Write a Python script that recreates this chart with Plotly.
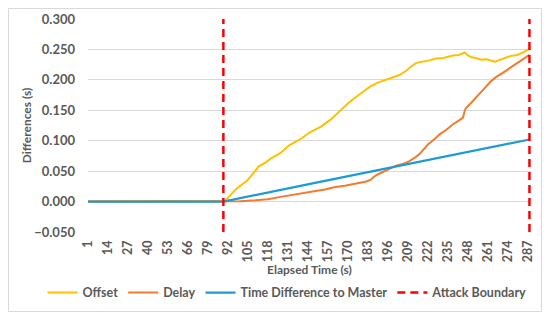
import plotly.graph_objects as go

# ---- data ----
offset_x = [1, 89, 90, 92, 94.6, 97, 100, 104.4, 108, 112, 116.4, 120, 126.2, 131.6, 134.9, 140,
            144.7, 148, 153, 158.9, 164.3, 170.8, 177, 183.9, 189, 194.8, 199, 203.5, 207.9,
            211, 214.4, 219, 223, 227.4, 232, 238.3, 242, 245.9, 248, 250.3, 253, 256.8, 260,
            265.5, 270, 275.3, 280, 284, 288]
offset_y = [0.000, 0.000, 0.001, 0.006, 0.014, 0.020, 0.026, 0.034, 0.045, 0.058, 0.064, 0.071,
            0.080, 0.092, 0.097, 0.104, 0.113, 0.117, 0.124, 0.135, 0.147, 0.163, 0.175, 0.188,
            0.195, 0.200, 0.204, 0.208, 0.215, 0.222, 0.228, 0.230, 0.232, 0.235, 0.236, 0.240,
            0.241, 0.245, 0.240, 0.237, 0.236, 0.233, 0.234, 0.230, 0.234, 0.239, 0.241, 0.245,
            0.251]

delay_x = [1, 89, 90, 100, 110, 118, 126.2, 135, 142, 148, 155, 161, 168, 177.4, 182, 185, 187,
           189.3, 194.8, 201.3, 206, 210, 214, 216.5, 220, 222, 226, 229.6, 234, 238.3, 242,
           244.8, 246, 247, 250, 253.5, 258, 262.3, 266, 270.9, 275, 279.7, 284, 288]
delay_y = [0.000, 0.000, 0.000, 0.0005, 0.002, 0.004, 0.0077, 0.011, 0.014, 0.017, 0.020, 0.0236,
           0.026, 0.031, 0.033, 0.036, 0.041, 0.0445, 0.051, 0.059, 0.062, 0.0665, 0.073, 0.078,
           0.088, 0.094, 0.102, 0.1105, 0.118, 0.127, 0.133, 0.138, 0.150, 0.1545, 0.162, 0.171,
           0.184, 0.196, 0.204, 0.212, 0.219, 0.226, 0.233, 0.241]

master_x = [1, 89, 151, 223, 288]
master_y = [0.000, 0.000, 0.032, 0.069, 0.102]

boundary_x = [89, 288]
boundary_y = [-0.05, 0.30]

tick_vals = list(range(1, 288, 13))
tick_text = [str(v) for v in tick_vals]
y_ticks = [-0.05, 0.0, 0.05, 0.10, 0.15, 0.20, 0.25, 0.30]

FONT = "Lato"
GREY = "#595959"

bx, by = [], []
for b in boundary_x:
    bx += [b, b, None]
    by += [boundary_y[0], boundary_y[1], None]

fig = go.Figure()
fig.add_trace(go.Scatter(x=offset_x, y=offset_y, mode="lines", name="Offset",
                         line=dict(color="#FFC000", width=2)))
fig.add_trace(go.Scatter(x=delay_x, y=delay_y, mode="lines", name="Delay",
                         line=dict(color="#F57A2A", width=2)))
fig.add_trace(go.Scatter(x=master_x, y=master_y, mode="lines", name="Time Difference to Master",
                         line=dict(color="#1C9AD6", width=2.2)))
fig.add_trace(go.Scatter(x=bx, y=by, mode="lines", name="Attack Boundary",
                         line=dict(color="#FF0000", width=2.5, dash="8px,5px")))

# page body has an 8px margin, so the figure is sized to sit inside the 550x320 window
W, H = 534, 304
L, R, T, B = 80, 11, 11, 80
PW, PH = W - L - R, H - T - B

fig.update_layout(
    width=W, height=H,
    margin=dict(l=L, r=R, t=T, b=B, autoexpand=False),
    paper_bgcolor="white", plot_bgcolor="white",
    font=dict(family=FONT, color=GREY, size=12),
    showlegend=True,
    legend=dict(orientation="h", xref="paper", yref="paper",
                x=(34.5 - L) / PW, xanchor="left", y=-0.286, yanchor="middle",
                font=dict(family=FONT, size=12.5, color=GREY, weight="bold"),
                itemwidth=30, tracegroupgap=0),
    xaxis=dict(range=[1, 289], tickmode="array", tickvals=tick_vals, ticktext=tick_text,
               tickangle=-90, showgrid=False, zeroline=False, showline=False,
               tickfont=dict(family=FONT, size=12.5, color=GREY, weight="bold"),
               ticks="", ticklabelstandoff=5,
               title=dict(text="Elapsed Time (s)", standoff=3,
                          font=dict(family=FONT, size=12, color=GREY, weight="bold"))),
    yaxis=dict(range=[-0.05, 0.30], tickmode="array", tickvals=y_ticks, tickformat=".3f",
               showgrid=True, gridcolor="#D9D9D9", gridwidth=1, zeroline=False, showline=False,
               tickfont=dict(family=FONT, size=13, color=GREY, weight="bold"),
               ticks="", ticklabelstandoff=12,
               title=dict(text="Differences (s)", standoff=0,
                          font=dict(family=FONT, size=12, color=GREY, weight="bold"))),
    shapes=[dict(type="rect", xref="paper", yref="paper",
                 x0=(0.5 - L) / PW, x1=(W - 0.5 - L) / PW,
                 y0=-(B - 0.5) / PH, y1=1 + (T - 0.5) / PH,
                 line=dict(color="#D9D9D9", width=1), fillcolor="rgba(0,0,0,0)", layer="below")],
)

fig.write_html("out.html")
